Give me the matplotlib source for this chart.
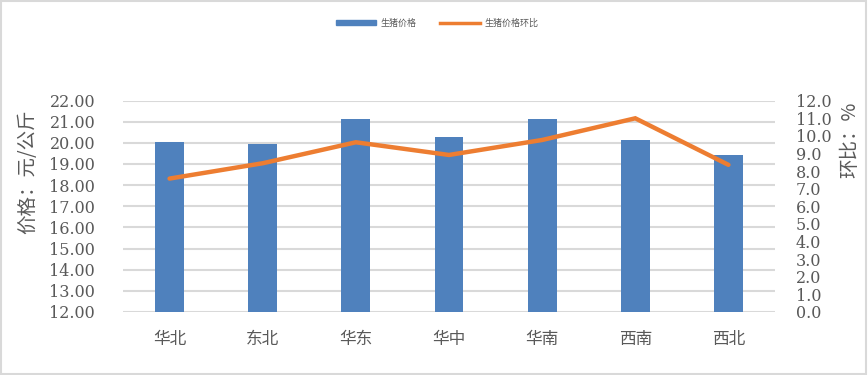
#!/usr/bin/env python3
"""Regional hog price bar chart with month-on-month ratio line (twin axes)."""

import matplotlib
matplotlib.use("Agg")
import matplotlib.pyplot as plt
from matplotlib.patches import Rectangle
from matplotlib.lines import Line2D

plt.rcParams["font.family"] = ["DejaVu Serif", "Noto Sans CJK SC"]
plt.rcParams["axes.unicode_minus"] = False

regions = ["华北", "东北", "华东", "华中", "华南", "西南", "西北"]
price = [20.04, 19.95, 21.13, 20.28, 21.13, 20.14, 19.43]
ratio = [7.57, 8.44, 9.63, 8.91, 9.76, 10.99, 8.35]

left_ticks = [12 + i for i in range(11)]
right_ticks = [float(i) for i in range(13)]

BLUE = "#4F81BD"
ORANGE = "#ED7D31"
GRID = "#D9D9D9"
TXT = "#595959"
CJK = ["Noto Sans CJK SC"]


def main() -> None:
    fig = plt.figure(figsize=(8.68, 3.75), dpi=100)
    ax = fig.add_axes([123 / 868, 63 / 375, 652 / 868, 211.5 / 375])

    x = list(range(len(regions)))
    ax.bar(x, [p - 12 for p in price], bottom=12, width=0.31, color=BLUE, zorder=3)
    ax.set_xlim(-0.5, len(regions) - 0.5)
    ax.set_ylim(12, 22)
    ax.set_yticks(left_ticks)
    ax.set_yticklabels([f"{v:.2f}" for v in left_ticks])
    ax.set_xticks(x)
    ax.set_xticklabels(regions, fontsize=12, color=TXT, family=CJK)
    ax.grid(axis="y", color=GRID, linewidth=1.5, zorder=0)
    for s in ax.spines.values():
        s.set_visible(False)
    ax.tick_params(axis="y", length=0, pad=20, labelsize=11.5, labelcolor=TXT)
    ax.tick_params(axis="x", length=0, pad=14)

    ax2 = ax.twinx()
    ax2.plot(x, ratio, color=ORANGE, linewidth=3.2, solid_capstyle="round",
             solid_joinstyle="miter", zorder=4)
    ax2.set_ylim(0, 12)
    ax2.set_yticks(right_ticks)
    ax2.set_yticklabels([f"{v:.1f}" for v in right_ticks])
    for s in ax2.spines.values():
        s.set_visible(False)
    ax2.tick_params(axis="y", length=0, pad=15, labelsize=11.5, labelcolor=TXT)

    # axis titles sit high, as in the Excel original
    fig.text(27.5 / 868, 1 - 172 / 375, "价格：元/公斤", rotation=90, fontsize=14,
             color=TXT, family=CJK, ha="center", va="center")
    fig.text(850 / 868, 1 - 140 / 375, "环比：%", rotation=90, fontsize=14,
             color=TXT, family=CJK, ha="center", va="center")

    handles = [
        Rectangle((0, 0), 1, 1, color=BLUE),
        Line2D([0], [0], color=ORANGE, linewidth=2.5),
    ]
    fig.legend(handles, ["生猪价格", "生猪价格环比"], loc="center",
               bbox_to_anchor=(0.504, 0.939), ncol=2, frameon=False,
               prop={"family": "Noto Sans CJK SC", "size": 6.5},
               handlelength=4.4, handleheight=0.5, columnspacing=2.6,
               handletextpad=0.5, labelcolor=TXT)

    fig.patches.append(Rectangle((0.001, 0.002), 0.997, 0.995,
                                 transform=fig.transFigure, fill=False,
                                 edgecolor=GRID, linewidth=1.5))

    fig.savefig("out.png", dpi=100)
    plt.close(fig)


if __name__ == "__main__":
    main()
